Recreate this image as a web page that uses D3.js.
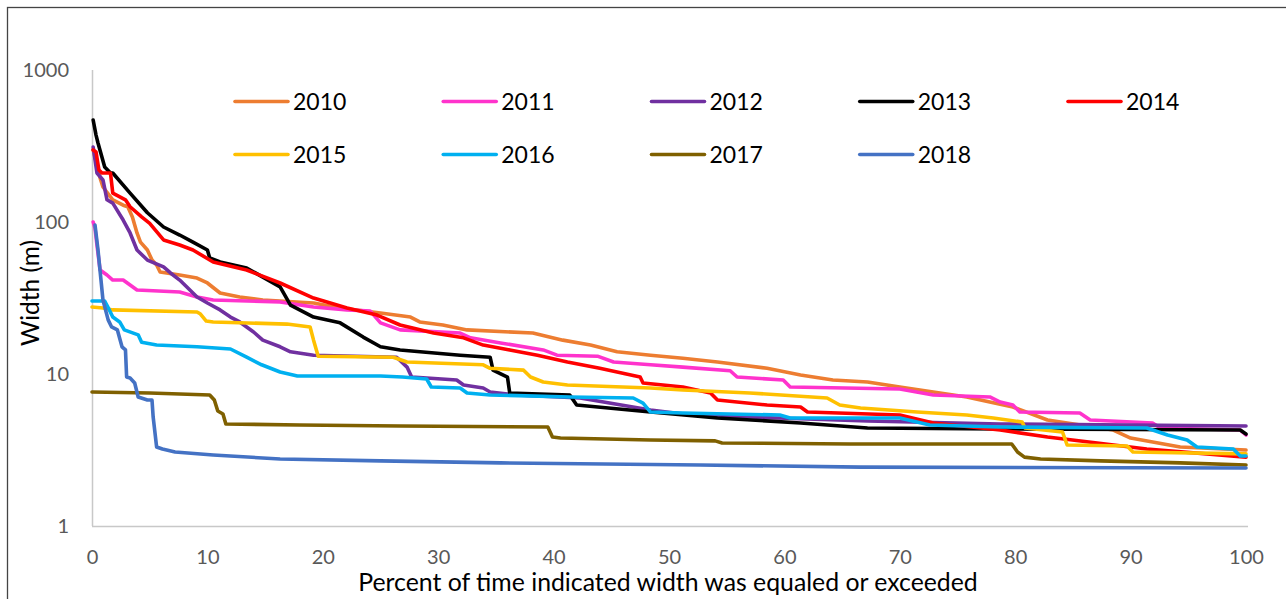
<!DOCTYPE html>
<html>
<head>
<meta charset="utf-8">
<script src="https://cdn.jsdelivr.net/npm/d3@7"></script>
<style>
  html, body { margin: 0; padding: 0; background: #ffffff; }
  svg { display: block; }
</style>
</head>
<body>
<svg id="chart" width="1286" height="599"></svg>
<script>
// Width-duration curves: [percent of time equaled or exceeded, width in m]
const years = ["2010", "2011", "2012", "2013", "2014", "2015", "2016", "2017", "2018"];
const colors = ["#ED7D31", "#FF33CC", "#7030A0", "#000000", "#FF0000", "#FFC000", "#00B0F0", "#7F6000", "#4472C4"];

const s2010 = [[0.1,298],[0.7,195],[0.95,170],[1.8,140],[2.7,129],[3.1,126],[3.5,108],[3.9,84.7],[4.2,73.8],[4.8,65.4],[5.2,56.2],[5.6,52.1],[5.9,46.9],[7.6,44.8],[9.1,42.8],[10.0,39.7],[11.1,34.1],[12.8,32.1],[14.8,30.7],[19.2,29.3],[21.5,27.2],[25.0,25.2],[27.6,23.7],[28.4,22.0],[30.4,21.0],[32.5,19.5],[38.2,18.6],[40.8,16.7],[43.2,15.5],[45.5,14.0],[48.4,13.3],[51.2,12.7],[54.2,12.0],[58.5,10.9],[61.4,9.85],[64.2,9.14],[67.2,8.86],[70.0,8.21],[72.9,7.62],[75.8,7.06],[79.8,6.07],[82.8,4.98],[88.5,4.28],[90.0,3.79],[94.3,3.31],[100,3.16]];
const s2011 = [[0.1,100],[0.26,91],[0.43,70.6],[0.7,48.3],[1.3,44.8],[1.8,41.5],[2.7,41.5],[3.3,38.5],[3.9,35.7],[7.6,34.6],[9.1,32.1],[10.5,30.7],[16.3,29.8],[19.2,27.6],[22.1,26.4],[24.1,26.0],[25.0,21.7],[26.7,19.5],[31.9,18.6],[32.8,17.3],[35.4,16.0],[39.1,14.4],[40.3,13.3],[43.8,13.1],[45.2,12.0],[48.4,11.5],[51.2,11.1],[55.3,10.5],[55.9,9.55],[59.9,9.14],[60.5,8.21],[70.0,7.96],[72.9,7.28],[77.8,7.06],[78.7,6.54],[79.8,6.25],[80.4,5.62],[85.6,5.54],[86.5,4.98],[91.9,4.76],[92.6,4.41],[99.5,4.28],[100,3.97]];
const s2012 = [[0.1,311],[0.43,210],[0.95,189],[1.3,140],[1.8,133],[2.7,103],[3.3,84.7],[3.9,65.4],[4.8,56.2],[6.2,50.6],[6.8,46.2],[7.6,41.5],[9.1,32.1],[10.0,29.3],[11.1,26.4],[12.0,23.7],[12.8,22.0],[14.0,18.9],[14.8,16.7],[16.3,15.1],[17.2,14.0],[19.2,13.3],[26.4,12.9],[27.3,11.1],[27.7,9.55],[31.6,9.14],[32.2,8.47],[33.9,8.09],[34.5,7.62],[36.8,7.28],[42.3,6.95],[48.4,5.80],[51.2,5.46],[57.0,5.21],[67.2,4.91],[78.7,4.69],[100,4.55]];
const s2013 = [[0.1,469],[0.35,373],[0.52,331],[1.1,230],[1.6,210],[1.8,210],[3.3,155],[4.8,115],[6.2,92.7],[7.6,82.1],[8.75,73.8],[10.0,65.4],[10.2,58.0],[11.1,54.6],[13.4,49.8],[16.3,37.4],[17.2,28.4],[19.2,23.7],[21.5,21.7],[23.5,17.5],[25.0,15.1],[26.7,14.4],[31.9,13.3],[34.5,12.9],[34.75,10.6],[36.0,9.55],[36.2,7.50],[41.4,7.28],[42.0,6.25],[48.4,5.62],[54.2,5.14],[61.4,4.76],[67.2,4.41],[78.7,4.35],[99.5,4.28],[100,4.03]];
const s2014 = [[0.1,298],[0.35,289],[0.6,220],[0.87,210],[1.6,210],[1.8,155],[2.9,140],[3.3,126],[4.3,108],[5.0,98],[6.2,76.2],[7.6,70.6],[8.75,65.4],[10.5,54.6],[13.4,48.3],[16.3,39.7],[19.2,31.6],[22.1,27.2],[24.7,24.4],[26.7,21.0],[29.6,18.6],[32.2,17.3],[33.9,15.5],[36.2,14.4],[38.6,13.3],[41.2,12.0],[44.0,10.9],[47.5,9.55],[47.75,8.73],[51.2,8.21],[53.6,7.50],[54.2,6.74],[58.5,6.25],[61.4,6.07],[62.0,5.62],[70.0,5.37],[72.9,4.76],[78.7,4.28],[82.8,3.85],[91.4,3.21],[100,2.84]];
const s2015 = [[0,27.6],[0.95,27.2],[1.8,26.4],[9.1,25.6],[9.4,24.8],[9.9,22.3],[10.5,22.0],[16.9,21.3],[18.9,20.4],[19.2,16.7],[19.6,13.1],[26.1,12.9],[27.3,12.0],[33.9,11.5],[34.5,10.9],[37.4,10.6],[38.0,9.55],[39.1,8.86],[41.2,8.47],[48.4,8.09],[51.2,7.85],[57.0,7.50],[63.7,6.95],[64.8,6.25],[66.6,5.97],[71.5,5.62],[75.8,5.37],[78.1,5.14],[80.6,4.83],[80.85,4.41],[84.1,4.15],[84.5,3.41],[89.7,3.36],[90.2,3.07],[100,2.98]];
const s2016 = [[0,30.2],[1.1,30.2],[1.5,26.4],[1.8,23.7],[2.4,22.0],[2.8,19.5],[4.0,18.1],[4.3,16.2],[5.6,15.5],[9.1,15.1],[12.0,14.6],[13.4,12.9],[14.7,11.5],[16.3,10.3],[17.8,9.70],[25.0,9.70],[26.9,9.55],[29.0,9.27],[29.4,8.21],[31.9,8.09],[32.5,7.50],[34.5,7.28],[41.4,7.06],[46.9,6.95],[47.75,6.44],[48.4,5.62],[51.2,5.54],[59.6,5.37],[60.5,5.14],[70.0,5.14],[72.6,4.62],[78.7,4.48],[91.4,4.41],[93.2,3.97],[94.9,3.68],[95.75,3.31],[98.9,3.21],[99.5,2.89],[100,2.89]];
const s2017 = [[0,7.62],[5.0,7.50],[10.2,7.28],[10.6,6.74],[10.9,5.71],[11.35,5.46],[11.6,4.69],[18.0,4.62],[26.7,4.55],[39.5,4.48],[39.9,3.85],[40.6,3.79],[48.4,3.68],[54.0,3.63],[54.6,3.52],[65.7,3.46],[79.7,3.46],[80.2,3.07],[80.8,2.84],[82.2,2.76],[87.4,2.68],[94.3,2.60],[100,2.52]];
const s2018 = [[0.26,95.5],[0.52,65.4],[0.95,30.7],[1.4,22.7],[1.7,20.4],[2.2,19.5],[2.6,15.1],[2.9,14.4],[3.0,9.55],[3.3,9.41],[3.7,8.73],[4.0,7.06],[4.8,6.74],[5.2,6.74],[5.3,5.21],[5.6,3.31],[6.1,3.21],[7.2,3.07],[10.5,2.93],[16.3,2.76],[25.0,2.68],[35.4,2.60],[52.7,2.52],[66.6,2.44],[100,2.41]];

const seriesData = [s2010, s2011, s2012, s2013, s2014, s2015, s2016, s2017, s2018];
const xTicks = [0, 10, 20, 30, 40, 50, 60, 70, 80, 90, 100];
const yTicks = [1, 10, 100, 1000];

const FONT = "Lato, 'Open Sans', 'Liberation Sans', sans-serif";
const svg = d3.select("#chart");

// outer chart frame
svg.append("rect")
  .attr("x", 7.5).attr("y", 7.5)
  .attr("width", 1300).attr("height", 620)
  .attr("fill", "#ffffff")
  .attr("stroke", "#444444").attr("stroke-width", 1.3);

const x = d3.scaleLinear().domain([0, 100]).range([92, 1246]);
const y = d3.scaleLog().domain([1, 1000]).range([526, 70]);

// axes: light grey lines, no tick marks
const xAxis = svg.append("g")
  .attr("transform", `translate(0,${y(1)})`)
  .call(d3.axisBottom(x).tickValues(xTicks).tickSize(0).tickPadding(24).tickFormat(d3.format("d")));
const yAxis = svg.append("g")
  .attr("transform", `translate(${x(0)},0)`)
  .call(d3.axisLeft(y).tickValues(yTicks).tickSize(0).tickPadding(23).tickFormat(d3.format("d")));

[xAxis, yAxis].forEach(g => {
  g.select(".domain").attr("stroke", "#c8c8c8").attr("stroke-width", 1.5);
  g.selectAll("text")
    .attr("font-family", FONT).attr("font-size", 20)
    .attr("fill", "#595959");
});
xAxis.select(".domain").attr("d", `M${x(0)},0.5H${x(100) + 2}`);
yAxis.select(".domain").attr("d", `M0.5,${y(1)}V${y(1000)}`);

// series lines
const line = d3.line()
  .x(d => x(d[0]))
  .y(d => y(d[1]));

svg.append("g").selectAll("path")
  .data(seriesData)
  .join("path")
  .attr("d", line)
  .attr("fill", "none")
  .attr("stroke", (d, i) => colors[i])
  .attr("stroke-width", 3.6)
  .attr("stroke-linejoin", "round")
  .attr("stroke-linecap", "round");

// legend: five columns, two rows
const legend = svg.append("g");
const colStep = 208.25;
years.forEach((yr, i) => {
  const col = i % 5, row = Math.floor(i / 5);
  const lx = 235 + col * colStep;
  const ly = 101.5 + row * 53;
  legend.append("line")
    .attr("x1", lx).attr("x2", lx + 53)
    .attr("y1", ly).attr("y2", ly)
    .attr("stroke", colors[i]).attr("stroke-width", 3.6)
    .attr("stroke-linecap", "round");
  legend.append("text")
    .attr("x", lx + 58).attr("y", ly)
    .attr("dy", "0.36em")
    .attr("font-family", FONT).attr("font-size", 23)
    .attr("fill", "#000000")
    .text(yr);
});

// axis titles
svg.append("text")
  .attr("x", 668).attr("y", 591)
  .attr("text-anchor", "middle")
  .attr("font-family", FONT).attr("font-size", 24.8)
  .attr("fill", "#000000")
  .text("Percent of time indicated width was equaled or exceeded");

svg.append("text")
  .attr("transform", "translate(39,293) rotate(-90)")
  .attr("text-anchor", "middle")
  .attr("font-family", FONT).attr("font-size", 24.5)
  .attr("fill", "#000000")
  .text("Width (m)");
</script>
</body>
</html>
